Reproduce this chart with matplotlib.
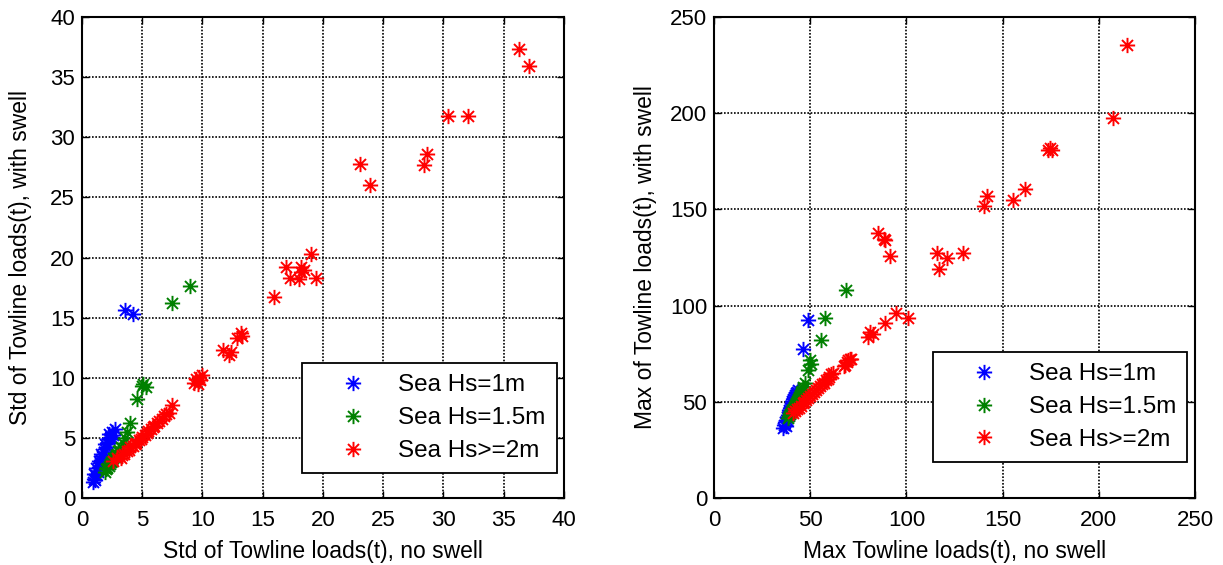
import matplotlib
matplotlib.use("Agg")
import matplotlib.pyplot as plt
from matplotlib.path import Path

plt.rcParams["font.family"] = ["Liberation Sans", "DejaVu Sans"]

# ---- left panel: std of towline loads ----
blue_std_x = [0.9, 1.0, 1.1, 1.0, 1.2, 1.3, 1.2, 1.4, 1.5, 1.4, 1.6, 1.7, 1.6, 1.8, 1.9, 2.0,
              1.9, 2.1, 2.2, 2.3, 2.2, 2.4, 2.5, 2.6, 2.7, 3.6, 4.2]
blue_std_y = [1.3, 1.6, 1.5, 2.0, 1.9, 2.2, 2.5, 2.6, 2.9, 3.1, 3.2, 3.5, 3.7, 3.8, 4.1, 4.2,
              4.5, 4.6, 4.9, 5.0, 5.3, 5.1, 5.5, 5.2, 5.7, 15.6, 15.3]

green_std_x = [1.9, 2.0, 2.1, 2.2, 2.3, 2.4, 2.5, 2.6, 2.7, 2.8, 2.9, 3.0, 3.1, 3.2, 3.4, 3.6,
               3.75, 4.0, 4.6, 5.0, 5.1, 5.3, 7.5, 9.0]
green_std_y = [2.2, 2.4, 2.5, 2.7, 2.8, 3.0, 3.1, 3.3, 3.4, 3.6, 3.7, 3.9, 4.0, 4.2, 4.6, 5.0,
               5.5, 6.2, 8.2, 9.3, 9.5, 9.2, 16.2, 17.6]

red_std_x = [2.6, 2.9, 3.2, 3.3, 3.5, 3.7, 3.9, 4.0, 4.2, 4.4, 4.5, 4.7, 4.9, 5.0, 5.2, 5.4,
             5.5, 5.7, 5.9, 6.0, 6.2, 6.4, 6.6, 6.8, 7.0, 7.2, 7.5,
             9.3, 9.5, 9.6, 9.7, 9.8, 10.0, 11.7, 12.2, 12.4, 12.9, 13.2, 13.3, 15.9,
             16.9, 17.3, 18.0, 18.2, 18.2, 18.4, 19.0, 19.4,
             23.1, 23.9, 28.4, 28.6, 30.4, 32.0, 36.3, 37.1]
red_std_y = [3.1, 3.3, 3.3, 3.6, 3.7, 3.9, 4.0, 4.2, 4.3, 4.5, 4.6, 4.8, 4.9, 5.1, 5.2, 5.4,
             5.6, 5.7, 5.9, 6.0, 6.2, 6.4, 6.6, 6.8, 7.0, 7.1, 7.7,
             9.6, 9.9, 9.5, 10.1, 9.8, 10.2, 12.3, 11.9, 12.1, 13.3, 13.7, 13.5, 16.7,
             19.2, 18.3, 18.2, 18.8, 19.2, 19.0, 20.3, 18.3,
             27.8, 26.0, 27.7, 28.6, 31.8, 31.8, 37.3, 35.9]

# ---- right panel: max towline loads ----
blue_max_x = [36.0, 36.5, 37.0, 37.2, 37.8, 38.0, 38.5, 38.8, 39.2, 39.5, 40.0, 40.3, 40.8,
              41.2, 41.6, 42.0, 42.5, 43.0, 43.8, 46.3, 48.9]
blue_max_y = [36.5, 38.0, 39.5, 37.5, 40.5, 42.0, 43.0, 44.5, 45.5, 47.0, 48.0, 49.5, 50.5,
              51.5, 52.5, 53.5, 54.5, 55.0, 56.0, 77.4, 92.5]

green_max_x = [38.5, 39.0, 39.5, 40.0, 40.5, 41.0, 41.5, 42.0, 42.5, 43.0, 43.5, 44.0, 44.5,
               45.0, 45.5, 46.0, 46.5, 47.3, 48.9, 49.9, 50.5, 55.6, 57.7, 68.6]
green_max_y = [41.5, 42.5, 43.5, 44.5, 45.5, 46.5, 47.5, 48.5, 49.5, 50.5, 51.5, 52.5, 53.5,
               54.5, 55.5, 56.5, 57.5, 59.8, 66.5, 71.7, 69.5, 82.1, 93.6, 108.1]

red_max_x = [41.0, 42.0, 43.0, 44.0, 45.0, 46.0, 47.0, 48.0, 49.0, 50.0, 51.0, 52.0, 53.0,
             54.0, 55.0, 56.0, 57.0, 58.0, 59.0, 60.0, 61.0, 62.0,
             67.5, 68.1, 69.0, 69.6, 70.5, 71.0, 80.0, 81.1, 82.5, 88.9, 94.6, 100.8,
             85.2, 88.4, 88.9, 91.5, 115.9, 117.0, 121.1, 129.4,
             140.3, 141.9, 155.4, 161.6, 173.6, 174.5, 175.7, 207.4, 214.7]
red_max_y = [44.2, 45.0, 46.2, 47.0, 48.0, 49.2, 50.0, 51.0, 52.2, 53.0, 54.0, 55.2, 56.0,
             57.0, 58.2, 59.0, 60.0, 61.2, 62.0, 63.0, 64.2, 65.0,
             68.5, 69.1, 70.5, 71.7, 72.5, 72.0, 83.7, 86.3, 85.0, 91.0, 96.2, 93.6,
             137.7, 134.6, 134.1, 125.8, 127.3, 119.0, 124.7, 127.3,
             151.8, 157.0, 154.9, 160.6, 180.9, 182.0, 180.9, 197.5, 235.5]

labels = ["Sea Hs=1m", "Sea Hs=1.5m", "Sea Hs>=2m"]
colors = ["#0000ff", "#008000", "#ff0000"]

# matlab style '*' marker: a plus with a shorter cross on top
d = 0.72
star = Path(
    [(-1, 0), (1, 0), (0, -1), (0, 1), (-d, -d), (d, d), (-d, d), (d, -d)],
    [Path.MOVETO, Path.LINETO] * 4,
)


def panel(ax, series, lim, step, xlabel, ylabel, ylabelpad, legend_anchor):
    for (x, y), c, lab in zip(series, colors, labels):
        ax.plot(x, y, linestyle="none", marker=star, markersize=11,
                markeredgewidth=1.4, markerfacecolor="none", markeredgecolor=c,
                label=lab)
    ax.set_xlim(0, lim)
    ax.set_ylim(0, lim)
    ticks = list(range(0, lim + 1, step))
    ax.set_xticks(ticks)
    ax.set_yticks(ticks)
    ax.grid(True, color="k", linestyle=(0, (1, 1)), linewidth=1.2)
    ax.tick_params(direction="in", top=True, right=True, length=5, width=1,
                   labelsize=16)
    ax.tick_params(axis="x", pad=9)
    ax.tick_params(axis="y", pad=5)
    for s in ax.spines.values():
        s.set_linewidth(1.5)
    ax.set_xlabel(xlabel, fontsize=16.5, labelpad=6)
    ax.set_ylabel(ylabel, fontsize=16.5, labelpad=ylabelpad)
    leg = ax.legend(loc="lower right", bbox_to_anchor=legend_anchor, fontsize=17.5,
                    frameon=True, fancybox=False, edgecolor="k", framealpha=1,
                    borderpad=0.45, handlelength=3.3, handletextpad=0.2,
                    labelspacing=0.45, borderaxespad=0)
    leg.get_frame().set_linewidth(1.3)


fig = plt.figure(figsize=(12.23, 5.65), dpi=100)
ax1 = fig.add_axes([82 / 1223, 67 / 565, 482 / 1223, 481 / 565])
ax2 = fig.add_axes([714 / 1223, 67 / 565, 481 / 1223, 481 / 565])

panel(ax1, [(blue_std_x, blue_std_y), (green_std_x, green_std_y), (red_std_x, red_std_y)],
      40, 5, "Std of Towline loads(t), no swell", "Std of Towline loads(t), with swell",
      13, (0.985, 0.052))
panel(ax2, [(blue_max_x, blue_max_y), (green_max_x, green_max_y), (red_max_x, red_max_y)],
      250, 50, "Max Towline loads(t), no swell", "Max of Towline loads(t), with swell",
      9, (0.983, 0.075))

fig.savefig("out.png", dpi=100)
